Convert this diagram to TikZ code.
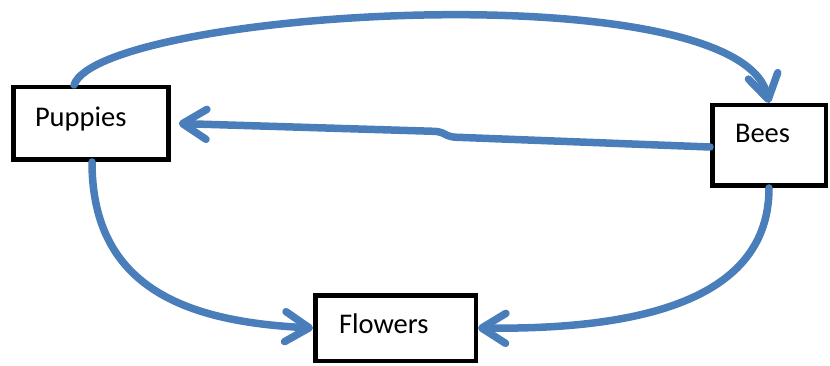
\documentclass[tikz,border=0pt]{standalone}
\usepackage{fontspec}
\setmainfont{Carlito}
\usetikzlibrary{arrows.meta,calc}
\definecolor{arrowblue}{HTML}{4A7EBB}
\begin{document}
\begin{tikzpicture}[x=1pt,y=-1pt,
  box/.style={draw=black, line width=4.5pt, fill=white, rectangle, inner sep=0pt,
    font=\fontsize{28.5pt}{34pt}\selectfont},
  flow/.style={draw=arrowblue, line width=7.5pt, line cap=round, line join=round,
    -{Straight Barb[length=24pt,width=30pt,line cap=round,line join=round]}}]
\useasboundingbox (0,0) rectangle (830,366);
\node[box, minimum width=155pt, minimum height=72.5pt, text height=10pt, text depth=3pt]
  (pup) at (91,123.5) {\makebox[112pt][l]{Puppies}};
\node[box, minimum width=113.5pt, minimum height=80.5pt, text height=0pt, text depth=5pt]
  (bees) at (769,145.5) {\makebox[68pt][l]{Bees}};
\node[box, minimum width=160.5pt, minimum height=65.5pt, text height=10pt, text depth=0pt]
  (flw) at (395.5,328) {\makebox[113pt][l]{Flowers}};
\coordinate (k1) at (450,137);
\coordinate (k2) at (440,131.5);
% top arc Puppies -> Bees
\draw[flow] ($(pup.north)+(-17,0)$) .. controls (100,10) and (740,-30) .. (bees.north);
% Bees -> Puppies
\draw[flow, rounded corners=5pt] ($(bees.west)+(0,1.5)$) -- (k1) -- (k2) -- ($(pup.east)+(8,0)$);
% Puppies -> Flowers
\draw[flow] ($(pup.south)+(1,0)$) .. controls (92,290) and (190,322) .. (flw.west);
% Bees -> Flowers
\draw[flow] (bees.south) .. controls (769,300) and (640,330) .. (flw.east);
\end{tikzpicture}
\end{document}
